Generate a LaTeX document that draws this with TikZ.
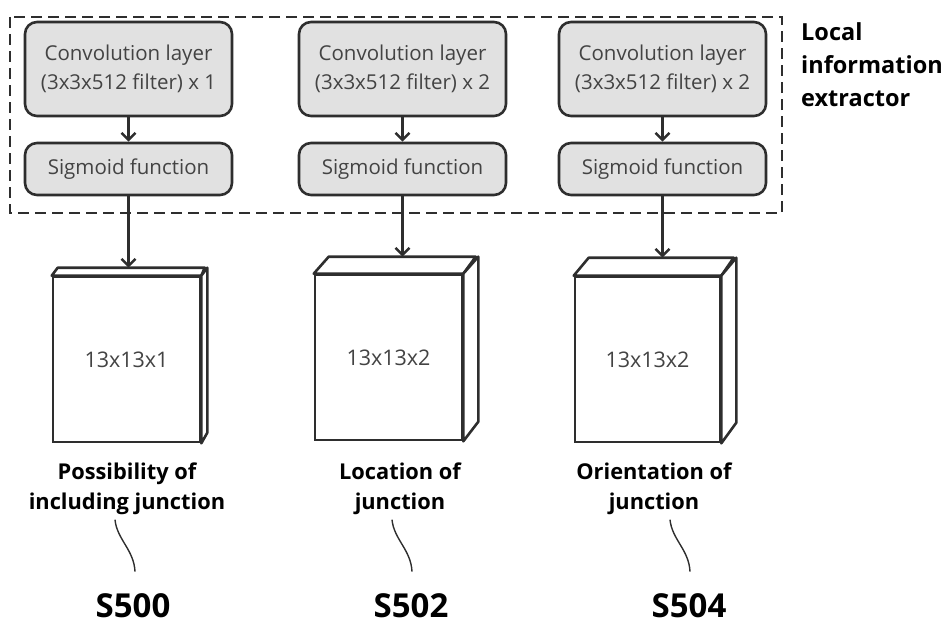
\documentclass[tikz,border=0pt]{standalone}
\usepackage{fontspec}
\setmainfont{Open Sans}
\usetikzlibrary{arrows.meta}
\definecolor{boxgray}{HTML}{E1E1E1}
\definecolor{inkgray}{HTML}{2E2E2E}

\begin{document}
\begin{tikzpicture}[x=1pt,y=-1pt,
      blk/.style={draw=inkgray,line width=2.6pt,fill=boxgray,rounded corners=12pt,
        minimum width=207pt,inner sep=0pt,align=center,text=inkgray!90,
        font=\fontsize{20.5}{29}\selectfont},
      conv/.style={blk,minimum height=94pt},
      sig/.style={blk,minimum height=52pt},
      cube/.style={draw=inkgray,line width=2.6pt,fill=white,minimum width=147pt,
        minimum height=165pt,inner sep=0pt,text=inkgray!90,
        font=\fontsize{21.5}{26}\selectfont},
      face/.style={draw=inkgray,line width=2.6pt,fill=white,line join=round},
      arr/.style={draw=inkgray,line width=2.6pt,
        -{Straight Barb[length=7pt,width=14pt,line width=2.6pt]}},
      lbl/.style={inner sep=0pt,align=center,font=\bfseries\fontsize{21.8}{30}\selectfont},
      refno/.style={inner sep=0pt,font=\bfseries\fontsize{33}{36}\selectfont},
      squig/.style={draw=inkgray,line width=1.4pt},
      ]
        \useasboundingbox (0,0) rectangle (947,626);

        % local information extractor
        \draw [inkgray,line width=2.6pt,dash pattern=on 11pt off 6pt]
          (10,17) rectangle (782,213);
        \node [lbl,align=left,anchor=north west,font=\bfseries\fontsize{23.5}{33}\selectfont]
          (extr) at (801,22) {Local\\information\\extractor};

        \node [conv] (convA) at (128.5,69) {Convolution layer\\(3x3x512 filter) x 1};
        \node [conv] (convB) at (402.5,69) {Convolution layer\\(3x3x512 filter) x 2};
        \node [conv] (convC) at (662.5,69) {Convolution layer\\(3x3x512 filter) x 2};

        \node [sig] (sigA) at (128.5,169) {Sigmoid function};
        \node [sig] (sigB) at (402.5,169) {Sigmoid function};
        \node [sig] (sigC) at (662.5,169) {Sigmoid function};

        \draw [arr] (convA) -- (sigA);
        \draw [arr] (convB) -- (sigB);
        \draw [arr] (convC) -- (sigC);

        % output maps
        \node [cube] (mapA) at (126.5,359.5) {13x13x1};
        \draw [face] (mapA.north west) -- ++(6,-8) coordinate (backA)
          -- ++(147,0) -- (mapA.north east) -- cycle;
        \draw [face] (mapA.north east) -- ++(6,-8) -- ++(0,165)
          -- (mapA.south east) -- cycle;

        \node [cube] (mapB) at (388.5,357.5) {13x13x2};
        \draw [face] (mapB.north west) -- ++(15,-17) coordinate (backB)
          -- ++(147,0) -- (mapB.north east) -- cycle;
        \draw [face] (mapB.north east) -- ++(15,-17) -- ++(0,165)
          -- (mapB.south east) -- cycle;

        \node [cube,minimum width=145pt] (mapC) at (647.5,359.5) {13x13x2};
        \draw [face] (mapC.north west) -- ++(15,-18) coordinate (backC)
          -- ++(145,0) -- (mapC.north east) -- cycle;
        \draw [face] (mapC.north east) -- ++(15,-18) -- ++(0,165)
          -- (mapC.south east) -- cycle;

        \draw [arr] (sigA) -- (sigA.south |- backA);
        \draw [arr] (sigB) -- (sigB.south |- backB);
        \draw [arr] (sigC) -- (sigC.south |- backC);

        % labels
        \node [lbl] (lblA) at (127,489) {Possibility of\\including junction};
        \node [lbl] (lblB) at (400,489) {Location of\\junction};
        \node [lbl] (lblC) at (654,489) {Orientation of\\junction};

        \node [refno] (sA) at (133,606) {S500};
        \node [refno] (sB) at (411,606) {S502};
        \node [refno] (sC) at (689,606) {S504};

        \draw [squig] ([shift={(-18,-74)}]sA.north)
          .. controls +(2,20) and +(-1,-22) .. ([shift={(2,-22)}]sA.north);
        \draw [squig] ([shift={(-19,-74)}]sB.north)
          .. controls +(2,20) and +(-1,-22) .. ([shift={(1,-22)}]sB.north);
        \draw [squig] ([shift={(-19,-74)}]sC.north)
          .. controls +(2,20) and +(-1,-22) .. ([shift={(1,-22)}]sC.north);
      \end{tikzpicture}
\end{document}
